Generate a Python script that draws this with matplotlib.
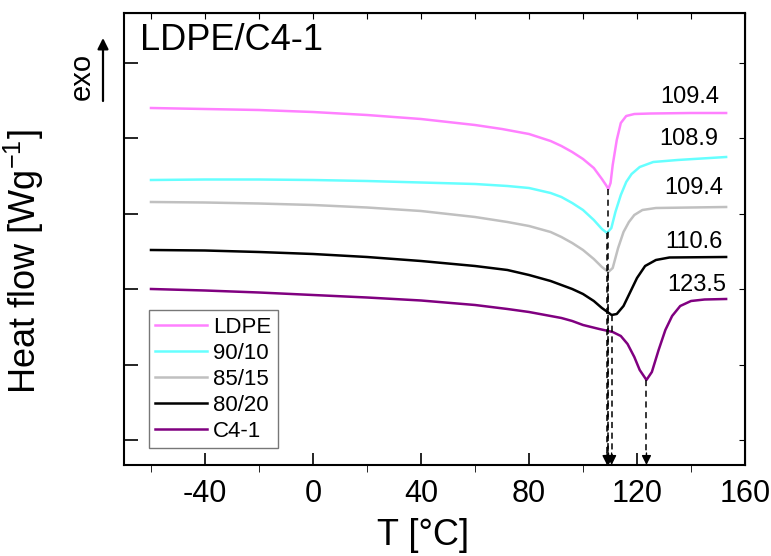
import numpy as np
import matplotlib
matplotlib.use("Agg")
from matplotlib import pyplot as plt

plt.rcParams['font.family'] = ['Liberation Sans', 'DejaVu Sans']
plt.rcParams['axes.unicode_minus'] = False
plt.rcParams['mathtext.fontset'] = 'custom'
plt.rcParams['mathtext.rm'] = 'Liberation Sans'
plt.rcParams['mathtext.it'] = 'Liberation Sans'
plt.rcParams['mathtext.default'] = 'regular'

# heat flow in arbitrary units (height above lower axis edge)
T_ldpe = [-60, -40, -20, 0, 20, 40, 60, 70, 80, 88, 92, 96, 100, 104, 107, 108.5, 109.4, 110.2, 111, 112.5, 114, 116, 119, 125, 140, 153]
y_ldpe = [357, 356, 355, 353, 350, 346, 340, 336, 331, 324, 319, 313, 306, 297, 286, 280, 276, 282, 300, 325, 342, 349, 351, 351.5, 352, 352]

T_9010 = [-60, -40, -20, 0, 20, 40, 60, 72, 80, 88, 92, 96, 100, 104, 107, 108.9, 110.5, 112, 114, 116, 118, 121, 126, 135, 153]
y_9010 = [285, 285.5, 285.5, 285, 284, 282.5, 281, 279, 277, 272, 268, 262, 255, 245, 236, 232, 237, 253, 270, 283, 291, 298, 303, 305, 308]

T_8515 = [-60, -40, -20, 0, 20, 40, 60, 72, 80, 88, 92, 96, 100, 104, 107, 109.4, 111, 113, 115, 117, 119, 122, 127, 153]
y_8515 = [263, 262.5, 261.5, 260, 257.5, 254, 248, 243, 239, 233, 228, 222, 215, 206, 198, 193, 197, 217, 233, 243, 250, 255, 257, 258]

T_8020 = [-60, -40, -20, 0, 20, 40, 60, 72, 80, 88, 92, 96, 100, 104, 107, 110.6, 112.5, 115, 117.5, 120, 123, 127, 132, 153]
y_8020 = [215, 214.5, 213, 211, 208, 204, 199, 195, 190, 184, 180, 176, 171, 164, 157, 150, 151, 159, 173, 187, 199, 205, 207.5, 208]

T_c41 = [-60, -40, -20, 0, 20, 40, 60, 72, 80, 88, 92, 96, 100, 106, 111, 114, 116.5, 119, 121, 123.5, 125.5, 128, 130.5, 133, 136, 140, 145, 153]
y_c41 = [176, 174.5, 172.5, 170, 167.5, 164.5, 160, 156, 153, 149, 147, 144, 140, 136, 133, 129, 121, 108, 95, 85, 93, 115, 135, 149, 159, 164, 165.5, 166]

names = ['LDPE', '90/10', '85/15', '80/20', 'C4-1']
colors = ['#FF80FF', '#66FFFF', '#C0C0C0', '#000000', '#800080']
peak_T = [109.4, 108.9, 109.4, 110.6, 123.5]
peak_y = [276, 232, 193, 150, 85]
peak_labels = ['109.4', '108.9', '109.4', '110.6', '123.5']
label_pos = [(150.6, 368), (150.0, 326), (151.8, 277), (151.8, 223), (153.2, 180)]

fig = plt.figure(figsize=(7.71, 5.56), dpi=100)
ax = fig.add_axes([0.1608, 0.1637, 0.8055, 0.8129])

series = [(T_ldpe, y_ldpe), (T_9010, y_9010), (T_8515, y_8515), (T_8020, y_8020), (T_c41, y_c41)]
for (t, y), name, c in zip(series, names, colors):
    ax.plot(t, y, color=c, lw=1.8, label=name)

for t, y in zip(peak_T, peak_y):
    ax.plot([t, t], [y, 10], color='k', lw=1.1, ls=(0, (4, 3)))
    ax.annotate('', xy=(t, 0), xytext=(t, 12),
                arrowprops=dict(arrowstyle='-|>', color='k', lw=1,
                                mutation_scale=14, shrinkA=0, shrinkB=0))

for lab, (x, y) in zip(peak_labels, label_pos):
    ax.text(x, y, lab, ha='right', va='center', fontsize=17)

ax.set_xlim(-70, 160)
ax.set_ylim(0, 452)
ax.set_xticks([-40, 0, 40, 80, 120, 160])
ax.set_xticks(np.arange(-60, 161, 20), minor=True)
ax.set_yticks(25 + 75.4 * np.arange(6))
ax.set_yticklabels([])
ax.tick_params(axis='both', direction='in', width=1.2)
ax.tick_params(axis='x', which='major', length=9, labelsize=22, pad=10)
ax.tick_params(axis='x', which='minor', length=5)
ax.tick_params(axis='y', length=10)
for s in ax.spines.values():
    s.set_linewidth(1.5)

top = ax.secondary_xaxis('top')
top.set_xticks(np.arange(-60, 161, 20))
top.tick_params(direction='in', length=4, labeltop=False)
right = ax.secondary_yaxis('right')
right.set_yticks(25 + 75.4 * np.arange(6))
right.tick_params(direction='in', length=4, labelright=False)

ax.set_xlabel('T [°C]', fontsize=26)
ax.xaxis.set_label_coords(0.482, -0.118)
ax.set_ylabel('Heat flow [Wg$^{-1}$]', fontsize=26)
ax.yaxis.set_label_coords(-0.125, 0.45)

ax.text(0.026, 0.978, 'LDPE/C4-1', transform=ax.transAxes, ha='left', va='top', fontsize=26)

fig.text(82 / 771, 1 - 76 / 556, 'exo', rotation=90, ha='center', va='center', fontsize=21)
ax.annotate('', xy=(103 / 771, 1 - 38 / 556), xytext=(103 / 771, 1 - 101 / 556),
            xycoords='figure fraction', textcoords='figure fraction',
            arrowprops=dict(arrowstyle='-|>', color='k', lw=1.6, mutation_scale=16,
                            shrinkA=0, shrinkB=0))

leg = ax.legend(loc='lower left', bbox_to_anchor=(0.04, 0.037), borderaxespad=0,
                fontsize=16, fancybox=False, edgecolor='#555555', handlelength=2.3,
                labelspacing=0.22, borderpad=0.3, handletextpad=0.3)
leg.get_frame().set_linewidth(1.0)

plt.savefig('out.png', dpi=100)
